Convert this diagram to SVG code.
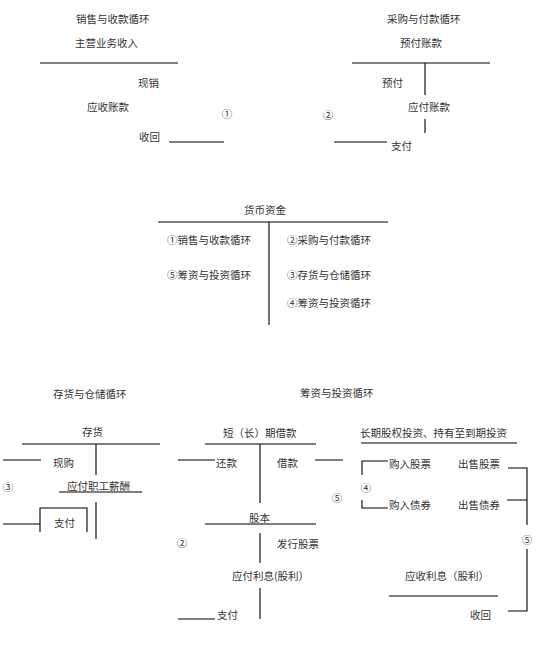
<svg xmlns="http://www.w3.org/2000/svg" width="545" height="645" viewBox="0 0 545 645">
<style>
text{font-family:"Noto Sans CJK SC","Liberation Serif",serif;font-size:10.5px;fill:#333;}
.c{text-anchor:middle;}
.ln{stroke:#000;stroke-width:1.1;fill:none;}
</style>
<rect width="545" height="645" fill="#fff"/>
<g id="sales">
<text x="76" y="23">销售与收款循环</text>
<text x="75" y="47">主营业务收入</text>
<text x="138" y="87">现销</text>
<text x="87" y="111">应收账款</text>
<text class="c" x="227" y="118">①</text>
<text x="139" y="141">收回</text>
</g>
<g id="purchase">
<text x="387" y="23">采购与付款循环</text>
<text x="400" y="47">预付账款</text>
<text x="382" y="87">预付</text>
<text x="408" y="111">应付账款</text>
<text class="c" x="328" y="119">②</text>
<text x="391" y="150">支付</text>
</g>
<g id="cash">
<text x="244" y="214">货币资金</text>
<text x="167" y="244">①销售与收款循环</text>
<text x="167" y="279">⑤筹资与投资循环</text>
<text x="287" y="244">②采购与付款循环</text>
<text x="287" y="279">③存货与仓储循环</text>
<text x="287" y="307">④筹资与投资循环</text>
</g>
<g id="inventory">
<text x="53" y="398">存货与仓储循环</text>
<text x="82" y="436">存货</text>
<text x="53" y="467">现购</text>
<text class="c" x="8" y="491">③</text>
<text x="67" y="490">应付职工薪酬</text>
<text x="54" y="527">支付</text>
</g>
<g id="financing">
<text x="300" y="397">筹资与投资循环</text>
<text x="223" y="437">短（长）期借款</text>
<text x="216" y="467">还款</text>
<text x="277" y="467">借款</text>
<text x="249" y="522">股本</text>
<text class="c" x="182" y="547">②</text>
<text x="277" y="548">发行股票</text>
<text x="232" y="580">应付利息(股利）</text>
<text x="217" y="619">支付</text>
</g>
<g id="investment">
<text x="360" y="437">长期股权投资、持有至到期投资</text>
<text class="c" x="366" y="492">④</text>
<text class="c" x="337" y="502">⑤</text>
<text x="389" y="468">购入股票</text>
<text x="389" y="509">购入债券</text>
<text x="458" y="468">出售股票</text>
<text x="458" y="509">出售债券</text>
<text class="c" x="527" y="544">⑤</text>
<text x="405" y="580">应收利息（股利）</text>
<text x="470" y="619">收回</text>
</g>
<g id="connectors" class="ln">
<path d="M40,63H178M169,142H224"/>
<path d="M352,63H490M425,63V95M425,119V133M334,142H387"/>
<path d="M158,222H388M269,222V325"/>
<path d="M22,444H160M96,444V475M3,460H41M59,492H142M96,502V539M40,532V508H87V532M3,524H40"/>
<path d="M205,444H316M260,444V503M178,460H215M315,460H343M205,524H316M260,533V563M260,588V619M178,619H215"/>
<path d="M361,443H517M388,461H362V475M362,500V508H388M508,468H527V525M507,500H527M527,549V611H508M389,596H498"/>
</g>
</svg>
